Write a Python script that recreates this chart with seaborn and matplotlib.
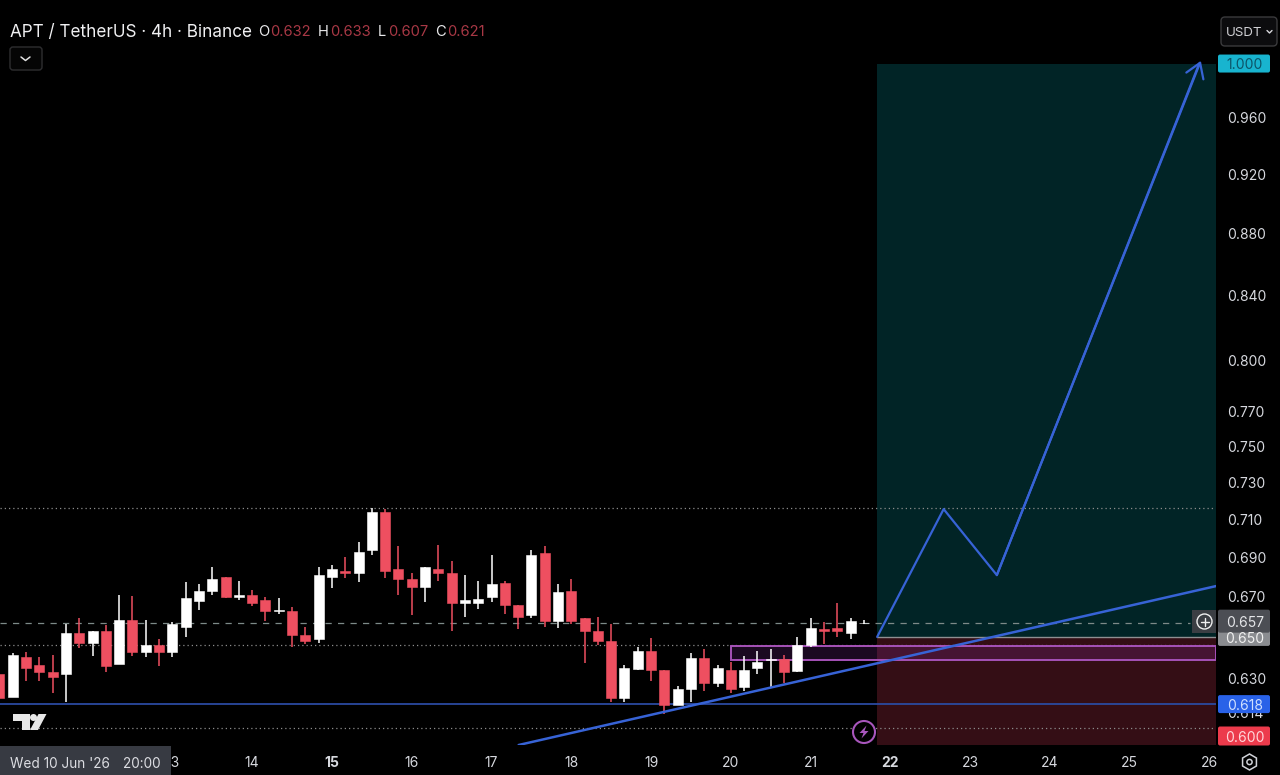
import numpy as np
import pandas as pd
import seaborn as sns
import matplotlib
matplotlib.use("Agg")
import matplotlib.pyplot as plt
from matplotlib.patches import Rectangle, FancyBboxPatch, Polygon, Circle, RegularPolygon

# ---------- data ----------
first_bar_day = 10 + 20 / 24      # Wed 10 Jun 20:00
bars_per_day = 6
opens = [.6320,.6211,.6402,.6362,.6331,.6320,.6520,.6469,.6531,.6371,.6582,.6429,.6463,.6429,.6549,.6680,.6729,.6798,.6699,.6710,.6681,.6630,.6630,.6510,.6490,.6798,.6832,.6819,.6937,.7140,.6841,.6789,.6749,.6841,.6821,.6669,.6669,.6700,.6770,.6659,.6608,.6922,.6579,.6730,.6592,.6531,.6480,.6209,.6347,.6432,.6341,.6178,.6249,.6400,.6279,.6341,.6260,.6349,.6389,.6392,.6338,.6461,.6541,.6542,.6519,.6567]
highs = [.6330,.6421,.6429,.6402,.6413,.6562,.6592,.6531,.6559,.6709,.6704,.6584,.6489,.6572,.6773,.6763,.6853,.6798,.6779,.6734,.6700,.6691,.6649,.6550,.6853,.6862,.6904,.6982,.7160,.7155,.6960,.6822,.6853,.6965,.6884,.6811,.6779,.6913,.6779,.6659,.6939,.6960,.6764,.6789,.6592,.6599,.6562,.6364,.6453,.6494,.6341,.6265,.6421,.6440,.6364,.6380,.6409,.6432,.6440,.6413,.6501,.6592,.6575,.6669,.6592,.6584]
lows = [.6070,.6211,.6288,.6288,.6231,.6192,.6445,.6409,.6333,.6371,.6409,.6404,.6360,.6404,.6501,.6632,.6710,.6691,.6683,.6653,.6576,.6612,.6453,.6464,.6472,.6745,.6793,.6772,.6913,.6796,.6708,.6608,.6671,.6779,.6529,.6599,.6637,.6671,.6612,.6539,.6592,.6550,.6543,.6564,.6373,.6461,.6192,.6190,.6341,.6288,.6135,.6178,.6192,.6243,.6259,.6231,.6243,.6320,.6259,.6280,.6331,.6450,.6466,.6501,.6490,.6563]
closes = [.6210,.6412,.6349,.6330,.6309,.6520,.6469,.6531,.6360,.6582,.6429,.6463,.6429,.6562,.6691,.6730,.6791,.6700,.6710,.6669,.6630,.6634,.6510,.6479,.6810,.6840,.6819,.6930,.7140,.6831,.6789,.6749,.6853,.6819,.6669,.6681,.6689,.6762,.6658,.6598,.6911,.6579,.6722,.6579,.6529,.6479,.6209,.6352,.6432,.6341,.6178,.6249,.6400,.6279,.6351,.6249,.6342,.6378,.6395,.6330,.6461,.6542,.6528,.6528,.6580,.6570]

price_ticks = [.96,.92,.88,.84,.80,.77,.75,.73,.71,.69,.67,.63,.614]
day_ticks = [13,14,15,16,17,18,19,20,21,22,23,24,25,26]
bold_days = [15,22]

last_price, entry, target, stop, support = 0.657, 0.650, 1.000, 0.600, 0.618
high_level, mid_level, low_level = 0.7161, 0.6461, 0.6069
zone_low, zone_high = 0.6389, 0.6454
zone_start_day = 21 + 20 / 24
box_start_day = 20.0
path_days = [21 + 20 / 24, 22 + 16 / 24, 23 + 8 / 24, 25.87]
path_prices = [entry, 0.7155, 0.6809, target]
trend_days = [17.34, 26.08]
trend_prices = [0.5993, 0.6753]

ohlc_legend = [("O", "0.632"), ("H", "0.633"), ("L", "0.607"), ("C", "0.621")]

UP, DOWN = "#ffffff", "#ee4f60"
BLUE = "#3763d6"
TXT = "#d6d8de"

# ---------- set up ----------
sns.set_theme(style="dark", rc={"axes.facecolor": "#000000", "figure.facecolor": "#000000"})
plt.rcParams["font.family"] = ["Inter", "DejaVu Sans"]
W, H = 1280, 775
fig = plt.figure(figsize=(W / 100, H / 100), dpi=100, facecolor="#000000")
ax = fig.add_axes([0, (H - 745) / H, 1216 / W, 745 / H], facecolor="#000000")
ax.set_yscale("log")
ax.set_xlim(10.84, 26.08)
ax.set_ylim(0.5993, 1.0489)

df = pd.DataFrame({"open": opens, "high": highs, "low": lows, "close": closes})
df["day"] = first_bar_day + df.index / bars_per_day
df["color"] = np.where(df["close"] >= df["open"], UP, DOWN)

# risk / reward zones
right = ax.get_xlim()[1]
ax.add_patch(Rectangle((zone_start_day, entry), right - zone_start_day, target - entry, fc="#012426", ec="none", zorder=1))
ax.add_patch(Rectangle((zone_start_day, 0.5995), right - zone_start_day, entry - 0.5995, fc="#340e15", ec="none", zorder=1))
ax.plot([zone_start_day, right], [entry, entry], color="#8f9092", lw=1.0, zorder=2)

# level lines
for lv in (high_level, mid_level, low_level):
    ax.axhline(lv, color="#8c8c8c", lw=0.9, ls=(0, (1, 2.4)), zorder=2)
ax.axhline(last_price, xmax=1190 / 1216, color="#7d8a88", lw=0.9, ls=(0, (5, 5)), zorder=2)
ax.axhline(support, color="#2b4aa0", lw=1.3, zorder=3)

# purple box
ax.add_patch(Rectangle((box_start_day, zone_low), right - box_start_day, zone_high - zone_low,
                       fc=(0.60, 0.20, 0.72, 0.18), ec="#a652b8", lw=1.4, zorder=3))

# candles
ax.vlines(df["day"], df["low"], df["high"], colors=df["color"], lw=1.1, zorder=4)
ax.bar(df["day"], (df["close"] - df["open"]).abs(), bottom=df[["open", "close"]].min(axis=1),
       width=10 / 79.8, color=df["color"], edgecolor=df["color"], lw=0.4, zorder=5)

# drawn lines via seaborn
sns.lineplot(x=trend_days, y=trend_prices, ax=ax, color=BLUE, lw=1.8, sort=False, estimator=None, zorder=6)
sns.lineplot(x=path_days, y=path_prices, ax=ax, color=BLUE, lw=1.6, sort=False, estimator=None, zorder=6)
ax.annotate("", xy=(path_days[-1] + 0.02, path_prices[-1] * 1.002), xytext=(path_days[-2], path_prices[-2]),
            arrowprops=dict(arrowstyle="->,head_length=0.85,head_width=0.55", color=BLUE, lw=1.6, shrinkA=0, shrinkB=0), zorder=6)

# axes text
ax.grid(False)
for s in ax.spines.values():
    s.set_visible(False)
ax.yaxis.tick_right()
ax.set_yticks(price_ticks)
ax.set_yticklabels([f"{p:.3f}" for p in price_ticks])
ax.yaxis.set_minor_locator(matplotlib.ticker.NullLocator())
ax.yaxis.set_minor_formatter(matplotlib.ticker.NullFormatter())
ax.tick_params(axis="y", length=0, pad=8, labelsize=10, labelcolor=TXT)
ax.set_xticks(day_ticks)
ax.set_xticklabels([str(d) for d in day_ticks])
ax.tick_params(axis="x", length=0, pad=8, labelsize=10, labelcolor=TXT)
for lab, d in zip(ax.get_xticklabels(), day_ticks):
    if d in bold_days:
        lab.set_fontweight("bold")
ax.set_xlabel(""); ax.set_ylabel("")
if ax.get_legend():
    ax.get_legend().remove()

# ---------- interface overlay, in pixels ----------
fig.canvas.draw()
ov = fig.add_axes([0, 0, 1, 1], facecolor="none", zorder=10)
ov.set_xlim(0, W); ov.set_ylim(H, 0); ov.axis("off")

def py(p):
    return H - ax.transData.transform((12, p))[1]

def label(yc, text, fc, tc, x0=1218, x1=1270, h=18):
    ov.add_patch(FancyBboxPatch((x0 + 1, yc - h / 2 + 1), x1 - x0 - 2, h - 2, boxstyle="round,pad=1,rounding_size=2", fc=fc, ec="none"))
    ov.text(1245, yc, text, color=tc, fontsize=10, ha="center", va="center_baseline")

label(py(entry) + 0.5, f"{entry:.3f}", "#8a8c90", "#f0f0f0", h=17)
label(py(last_price) - 1.5, f"{last_price:.3f}", "#4c4e54", "#e4e5e8", h=23)
label(py(target), f"{target:.3f}", "#18b4cf", "#0c5468")
label(py(support), f"{support:.3f}", "#2962e8", "#cfe0ff")
label(736, f"{stop:.3f}", "#ec3b4c", "#ffd6da", h=19)

# plus button
ov.add_patch(Rectangle((1192, 610), 24, 23, fc="#3b3e43", ec="none"))
ov.add_patch(Circle((1204.5, 621.5), 7.5, fc="none", ec="#f0f0f0", lw=1.0))
ov.plot([1200.5, 1208.5], [621.5, 621.5], color="#f0f0f0", lw=1.0)
ov.plot([1204.5, 1204.5], [617.5, 625.5], color="#f0f0f0", lw=1.0)

# header
ov.text(10, 30.5, "APT / TetherUS · 4h · Binance", color="#f0f0f2", fontsize=12.3, ha="left", va="center_baseline")
for (letter, val), xl, xv in zip(ohlc_legend, [258, 318, 378, 435], [270, 330, 388, 447]):
    ov.text(xl, 30.5, letter, color="#e8e8ea", fontsize=10.6, ha="left", va="center_baseline")
    ov.text(xv, 30.5, val, color="#a83845", fontsize=10.6, ha="left", va="center_baseline")
ov.add_patch(FancyBboxPatch((11, 48), 30, 21, boxstyle="round,pad=1,rounding_size=3", fc="#050505", ec="#2e2e30", lw=1))
ov.plot([21, 25.5, 30], [57, 60.5, 57], color="#e0e0e0", lw=1.1)

# USDT button
ov.add_patch(FancyBboxPatch((1222, 18), 54, 27, boxstyle="round,pad=1,rounding_size=4", fc="#0c0c0e", ec="#3a3a3c", lw=1))
ov.text(1226, 31.5, "USDT", color="#d0d0d4", fontsize=9.6, ha="left", va="center_baseline")
ov.plot([1267, 1269.5, 1272], [30.5, 33, 30.5], color="#d8d8dc", lw=1.0)

# time crosshair label
ov.add_patch(Rectangle((0, 746), 171, 29, fc="#373a42", ec="none"))
ov.text(10, 762, "Wed 10 Jun '26", color="#dcdde2", fontsize=9.8, ha="left", va="center_baseline")
ov.text(123, 762, "20:00", color="#dcdde2", fontsize=9.8, ha="left", va="center_baseline")

# logo
ov.add_patch(Polygon([(13, 714), (29.5, 714), (29.5, 730), (22, 730), (22, 721), (13, 721)], fc="#e8e8e8", ec="none"))
ov.add_patch(Circle((33.5, 717.5), 3.5, fc="#e8e8e8", ec="none"))
ov.add_patch(Polygon([(38.5, 714), (46.5, 714), (38, 730), (30, 730)], fc="#e8e8e8", ec="none"))

# bolt icon
ov.add_patch(Circle((864, 732), 11, fc="#000000", ec="#a856bc", lw=1.5))
ov.add_patch(Polygon([(866.5, 725.5), (859.5, 733), (863.5, 733), (861.5, 738.5), (868.5, 731), (864.5, 731)], fc="#a856bc", ec="none"))

# settings icon
ov.add_patch(RegularPolygon((1249.5, 762), 6, radius=8, orientation=0, fc="none", ec="#d0d2d8", lw=1.1))
ov.add_patch(Circle((1249.5, 762), 2.6, fc="none", ec="#d0d2d8", lw=1.1))

fig.savefig("out.png", dpi=100, facecolor="#000000")
